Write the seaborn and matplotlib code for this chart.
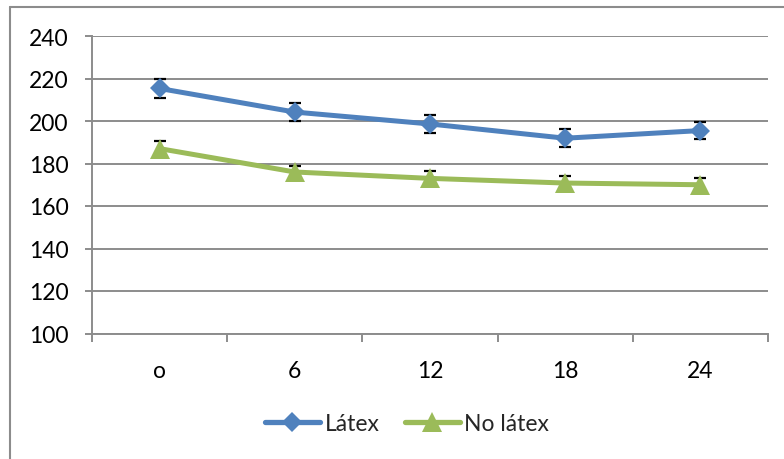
import matplotlib
matplotlib.use('Agg')
import matplotlib.pyplot as plt
import seaborn as sns
import pandas as pd
from matplotlib.ticker import FixedLocator, MultipleLocator
from matplotlib.lines import Line2D

# data
horas = ['o', '6', '12', '18', '24']
latex = [215.3, 204.2, 198.6, 191.9, 195.5]
latex_err = [4.3, 4.2, 4.3, 4.2, 4.2]
no_latex = [187.0, 176.0, 173.0, 170.8, 170.0]
no_latex_err = [3.5, 3.0, 3.4, 3.3, 3.2]
series = ['Látex', 'No látex']

BLUE = '#4F81BD'
GREEN = '#9BBB59'
GRID = '#8c8c8c'

df = pd.DataFrame({
    'hora': horas * 2,
    'valor': latex + no_latex,
    'serie': [series[0]] * len(horas) + [series[1]] * len(horas),
})

sns.set_style('white')
plt.rcParams['font.family'] = ['Lato', 'DejaVu Sans']

fig = plt.figure(figsize=(7.84, 4.60), dpi=100)
ax = fig.add_axes([92 / 784, 1 - 334.5 / 460, 676 / 784, (334.5 - 37) / 460])

# error bars first (markers sit on top)
for vals, errs in [(latex, latex_err), (no_latex, no_latex_err)]:
    ax.errorbar(horas, vals, yerr=errs, fmt='none', ecolor='black',
                elinewidth=1.2, capsize=4.3, capthick=1.6, zorder=2)

sns.lineplot(data=df, x='hora', y='valor', hue='serie', style='serie',
             palette=[BLUE, GREEN], markers=['D', '^'], dashes=False,
             linewidth=3.6, markeredgewidth=0,
             ax=ax, legend=False, zorder=3)
for line, ms in zip(ax.lines[-2:], [10.5, 14]):
    line.set_markersize(ms)

ax.set_ylim(100, 240)
ax.yaxis.set_major_locator(MultipleLocator(20))
ax.set_xlim(-0.5, len(horas) - 0.5)
ax.xaxis.set_minor_locator(FixedLocator([i - 0.5 for i in range(len(horas) + 1)]))

ax.grid(True, axis='y', color=GRID, linewidth=1.4)
ax.set_axisbelow(True)
for side in ['top', 'right']:
    ax.spines[side].set_visible(False)
for side in ['left', 'bottom']:
    ax.spines[side].set_color(GRID)
    ax.spines[side].set_linewidth(1.4)

ax.tick_params(axis='y', which='major', direction='out', length=5, width=1.4,
               color=GRID, pad=12, labelsize=16.5, left=True, labelcolor='black')
ax.tick_params(axis='x', which='major', length=0, pad=19, labelsize=16.5,
               labelcolor='black')
ax.tick_params(axis='x', which='minor', direction='out', length=6, width=1.4,
               color=GRID, bottom=True)
ax.set_xlabel('')
ax.set_ylabel('')

# legend below the plot
handles = [
    Line2D([], [], color=BLUE, linewidth=3.8, marker='D', markersize=10.5,
           markeredgewidth=0, solid_capstyle='round'),
    Line2D([], [], color=GREEN, linewidth=3.8, marker='^', markersize=14,
           markeredgewidth=0, solid_capstyle='round'),
]
fig.legend(handles, series, loc='center', bbox_to_anchor=(407 / 784, 1 - 425 / 460),
           ncol=2, frameon=False, fontsize=16.5, handlelength=2.4,
           handletextpad=0.2, columnspacing=1.1)

# outer chart border (cropped on the right and bottom)
fig.add_artist(Line2D([10 / 784, 10 / 784], [0, 1 - 8 / 460], transform=fig.transFigure,
                      color=GRID, linewidth=1.5))
fig.add_artist(Line2D([10 / 784, 1], [1 - 8 / 460, 1 - 8 / 460], transform=fig.transFigure,
                      color=GRID, linewidth=1.5))

fig.savefig('out.png', dpi=100)
